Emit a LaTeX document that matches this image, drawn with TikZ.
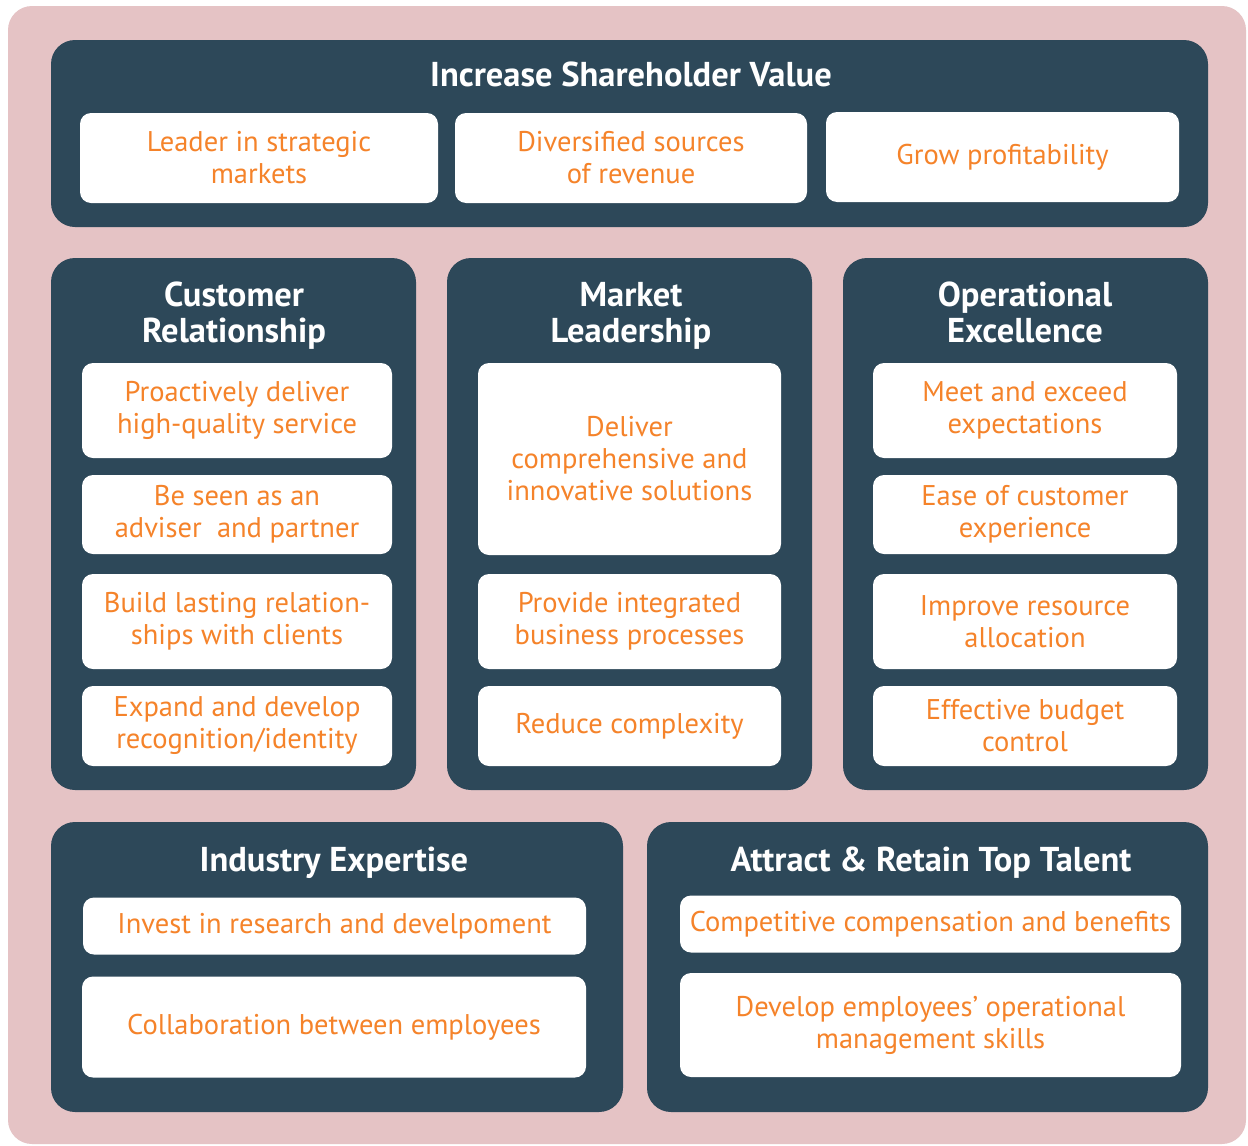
\documentclass[tikz,border=0pt]{standalone}
\usepackage{fontspec}
\setmainfont{PT Sans}
\newfontfamily\boxfont{PT Sans}
\newfontfamily\headfont{PT Sans}
\definecolor{navy}{HTML}{2D4859}
\definecolor{pinkbg}{HTML}{E5C3C5}
\definecolor{orangetxt}{HTML}{F5832A}
\tikzset{
  darkbox/.style={fill=navy, rounded corners=24pt, inner sep=0pt},
  wbox/.style={fill=white, rounded corners=11pt, inner sep=0pt, align=center,
    text=orangetxt, font=\boxfont\fontsize{28.5}{32}\selectfont},
  htitle/.style={text=white, align=center, inner sep=0pt,
    font=\headfont\bfseries\fontsize{34.5}{36}\selectfont}
}
\begin{document}
\begin{tikzpicture}[x=1pt,y=-1pt]
\useasboundingbox (0,0) rectangle (1248,1146);
\fill[white] (0,0) rectangle (1248,1146);
\fill[pinkbg, rounded corners=24pt] (8,6) rectangle (1246,1144);

% top
\node[darkbox, minimum width=1157pt, minimum height=187pt] (topbox) at (629.5,133.5) {};
\node[htitle] (toptitle) at (631,79) {\strut Increase Shareholder Value};
\node[wbox, minimum width=358pt, minimum height=90pt] (t1) at (259,158) {Leader in strategic\\markets};
\node[wbox, minimum width=352pt, minimum height=90pt] (t2) at (631,158) {Diversified sources\\of revenue};
\node[wbox, minimum width=353pt, minimum height=90pt] (t3) at (1002.5,157) {Grow profitability};

% middle dark boxes
\node[darkbox, minimum width=365pt, minimum height=532pt] (crbox) at (233.5,524) {};
\node[darkbox, minimum width=365pt, minimum height=532pt] (mlbox) at (629.5,524) {};
\node[darkbox, minimum width=365pt, minimum height=532pt] (oebox) at (1025.5,524) {};
\node[htitle] (crtitle) at (234,317) {\strut Customer\\\strut Relationship};
\node[htitle] (mltitle) at (631,317) {\strut Market\\\strut Leadership};
\node[htitle] (oetitle) at (1025,317) {\strut Operational\\\strut Excellence};

% customer relationship
\node[wbox, minimum width=310pt, minimum height=95pt] (c1) at (237,410.5) {Proactively deliver\\high-quality service};
\node[wbox, minimum width=310pt, minimum height=79pt] (c2) at (237,514.5) {Be seen as an\\adviser\ \ and partner};
\node[wbox, minimum width=310pt, minimum height=95pt] (c3) at (237,621.5) {Build lasting relation-\\ships with clients};
\node[wbox, minimum width=310pt, minimum height=80pt] (c4) at (237,726) {Expand and develop\\recognition/identity};

% market leadership
\node[wbox, minimum width=303pt, minimum height=192pt] (m1) at (629.5,459) {Deliver\\comprehensive and\\innovative solutions};
\node[wbox, minimum width=303pt, minimum height=95pt] (m2) at (629.5,621.5) {Provide integrated\\business processes};
\node[wbox, minimum width=303pt, minimum height=80pt] (m3) at (629.5,726) {Reduce complexity};

% operational excellence
\node[wbox, minimum width=304pt, minimum height=95pt] (o1) at (1025,410.5) {Meet and exceed\\expectations};
\node[wbox, minimum width=304pt, minimum height=79pt] (o2) at (1025,514.5) {Ease of customer\\experience};
\node[wbox, minimum width=304pt, minimum height=95pt] (o3) at (1025,621.5) {Improve resource\\allocation};
\node[wbox, minimum width=304pt, minimum height=80pt] (o4) at (1025,726) {Effective budget\\control};

% bottom
\node[darkbox, minimum width=572pt, minimum height=290pt] (iebox) at (337,967) {};
\node[darkbox, minimum width=561pt, minimum height=290pt] (atbox) at (927.5,967) {};
\node[htitle] (ietitle) at (334,864) {\strut Industry Expertise};
\node[htitle] (attitle) at (931,864) {\strut Attract \& Retain Top Talent};
\node[wbox, minimum width=503pt, minimum height=57pt] (i1) at (334.5,926) {Invest in research and develpoment};
\node[wbox, minimum width=504pt, minimum height=101pt] (i2) at (334,1027) {Collaboration between employees};
\node[wbox, minimum width=501pt, minimum height=57pt] (a1) at (930.5,924) {Competitive compensation and benefits};
\node[wbox, minimum width=501pt, minimum height=104pt] (a2) at (930.5,1025) {Develop employees’ operational\\management skills};
\end{tikzpicture}
\end{document}
